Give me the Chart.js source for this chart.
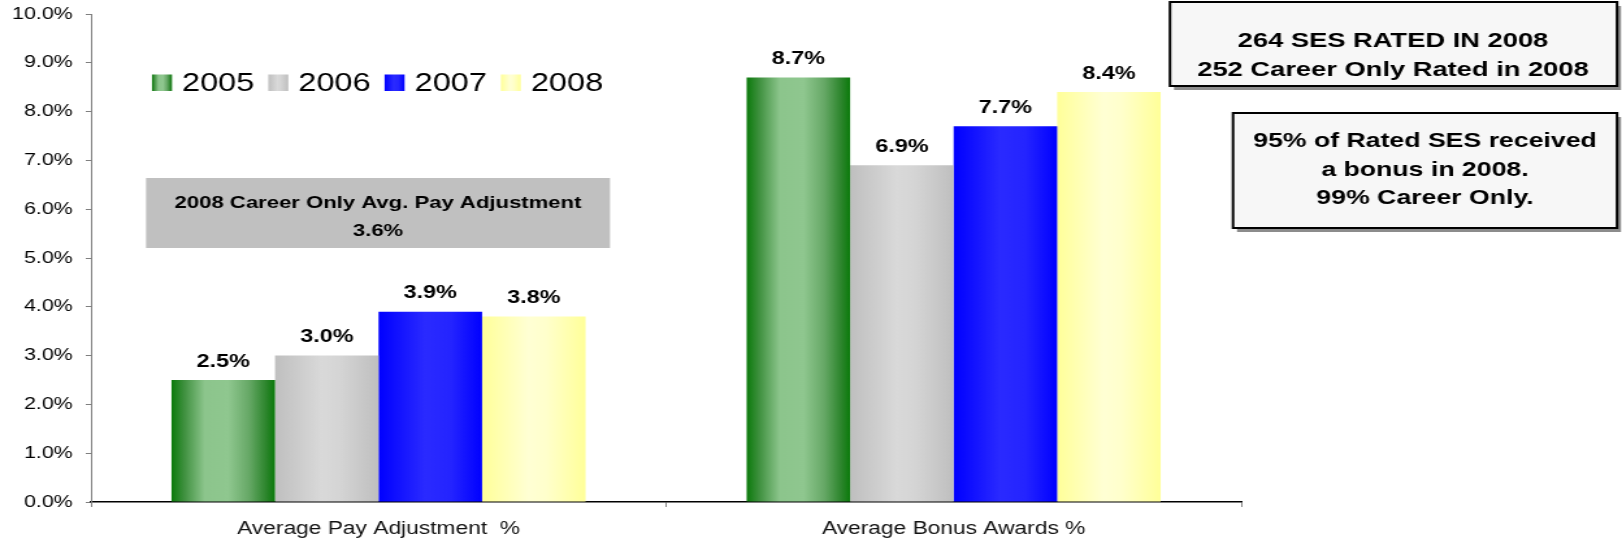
<!DOCTYPE html>
<html>
<head>
<meta charset="utf-8">
<title>SES Pay Adjustment and Bonus Awards</title>
<script src="https://cdn.jsdelivr.net/npm/chart.js@4.4.1/dist/chart.umd.min.js"></script>
<style>
  html, body { margin: 0; padding: 0; background: #fff; overflow: hidden; }
  #chart { display: block; }
</style>
</head>
<body>
<!-- canvas is drawn narrower and stretched sideways, like the original slide -->
<canvas id="chart" width="1248" height="541" style="width:1622px;height:541px"></canvas>
<script>
// --- DATA ---
const categories = ['Average Pay Adjustment  %', 'Average Bonus Awards %'];
const years = ['2005', '2006', '2007', '2008'];
const values2005 = [2.5, 8.7];
const values2006 = [3.0, 6.9];
const values2007 = [3.9, 7.7];
const values2008 = [3.8, 8.4];
const yMin = 0;
const yMax = 10;
const yStep = 1;

const noteLines = ['2008 Career Only Avg. Pay Adjustment', '3.6%'];
const ratedLines = ['264 SES RATED IN 2008', '252 Career Only Rated in 2008'];
const bonusLines = ['95% of Rated SES received', 'a bonus in 2008.', '99% Career Only.'];

// --- STYLE ---
const FONT = "'Liberation Sans', Arial, Helvetica, sans-serif";
const STRETCH = 1622 / 1248;
const sx = v => v / STRETCH;          // page x -> canvas x
const CAT_PCT = 0.72;

const gradientStops = [
    [[0, '#0b7a0b'], [0.12, '#3e903e'], [0.32, '#8cc58c'], [0.55, '#8fc78f'], [0.75, '#66a866'], [0.92, '#2a842a'], [1, '#0b7a0b']],
    [[0, '#bfbfbf'], [0.45, '#d9d9d9'], [0.62, '#d5d5d5'], [1, '#bfbfbf']],
    [[0, '#0000ff'], [0.45, '#2a2aff'], [0.7, '#2424ff'], [1, '#0000ff']],
    [[0, '#ffff99'], [0.45, '#ffffd4'], [0.62, '#ffffcc'], [1, '#ffff99']]
];
const solidColors = ['#5aa55a', '#cfcfcf', '#1a1aff', '#ffffc0'];

function makeGradient(ctx, left, width, stops) {
    const g = ctx.createLinearGradient(left, 0, left + width, 0);
    stops.forEach(([p, c]) => g.addColorStop(p, c));
    return g;
}

function barFill(context) {
    const chart = context.chart;
    const x = chart.scales.x;
    const i = context.datasetIndex;
    if (!x || !x.width || context.type !== 'data') return solidColors[i];
    const groupW = (x.width / categories.length) * CAT_PCT;
    const barW = groupW / years.length;
    const left = x.getPixelForValue(context.dataIndex) - groupW / 2 + i * barW;
    return makeGradient(chart.ctx, left, barW, gradientStops[i]);
}

// --- PLUGINS ---
const valueLabels = {
    id: 'valueLabels',
    afterDatasetsDraw(chart) {
        const ctx = chart.ctx;
        ctx.save();
        ctx.font = `bold 18px ${FONT}`;
        ctx.fillStyle = '#000';
        ctx.textAlign = 'center';
        ctx.textBaseline = 'alphabetic';
        chart.data.datasets.forEach((ds, i) => {
            chart.getDatasetMeta(i).data.forEach((bar, j) => {
                ctx.fillText(ds.data[j].toFixed(1) + '%', bar.x, bar.y - 13.5);
            });
        });
        ctx.restore();
    }
};

const yearLegend = {
    id: 'yearLegend',
    afterDraw(chart) {
        const ctx = chart.ctx;
        const boxW = sx(20), boxTop = 74.5, boxH = 16.5;
        let x = sx(152);
        ctx.save();
        ctx.font = `25px ${FONT}`;
        ctx.fillStyle = '#000';
        ctx.textBaseline = 'alphabetic';
        chart.data.datasets.forEach((ds, i) => {
            ctx.fillStyle = makeGradient(ctx, x, boxW, gradientStops[i]);
            ctx.fillRect(x, boxTop, boxW, boxH);
            ctx.fillStyle = '#000';
            const tx = x + boxW + sx(10);
            ctx.fillText(ds.label, tx, 91);
            x = tx + ctx.measureText(ds.label).width + sx(14);
        });
        ctx.restore();
    }
};

function drawNote(ctx, box, lines, baselines, fontSize) {
    ctx.save();
    const x = sx(box.x1), w = sx(box.x2) - sx(box.x1), h = box.y2 - box.y1;
    if (box.shadow) {
        ctx.fillStyle = '#8c8c8c';
        ctx.fillRect(x + sx(4), box.y1 + 4, w, h);
    }
    ctx.fillStyle = box.fill;
    ctx.fillRect(x, box.y1, w, h);
    if (box.border) {
        ctx.strokeStyle = '#000';
        ctx.lineWidth = 2;
        ctx.strokeRect(x, box.y1, w, h);
    }
    ctx.fillStyle = '#000';
    ctx.font = `bold ${fontSize}px ${FONT}`;
    ctx.textAlign = 'center';
    ctx.textBaseline = 'alphabetic';
    lines.forEach((t, k) => ctx.fillText(t, sx(box.cx), baselines[k]));
    ctx.restore();
}

const notes = {
    id: 'notes',
    afterDraw(chart) {
        const ctx = chart.ctx;
        drawNote(ctx, { x1: 146, x2: 610, y1: 178, y2: 248, cx: 378, fill: '#c0c0c0' },
            noteLines, [207.5, 235.5], 17);
        drawNote(ctx, { x1: 1170, x2: 1617, y1: 2, y2: 86, cx: 1393, fill: '#f7f7f7', border: true, shadow: true },
            ratedLines, [47, 76], 21);
        drawNote(ctx, { x1: 1233, x2: 1617, y1: 113, y2: 228, cx: 1425, fill: '#f7f7f7', border: true, shadow: true },
            bonusLines, [147, 176, 204], 20.5);
    }
};

// --- CHART ---
const seriesValues = [values2005, values2006, values2007, values2008];

new Chart(document.getElementById('chart'), {
    type: 'bar',
    data: {
        labels: categories,
        datasets: years.map((y, i) => ({
            label: y,
            data: seriesValues[i],
            backgroundColor: barFill,
            borderWidth: 0,
            categoryPercentage: CAT_PCT,
            barPercentage: 1.0
        }))
    },
    options: {
        responsive: false,
        devicePixelRatio: 1,
        animation: false,
        events: [],
        layout: { padding: { top: 14, right: 1248 - 955, bottom: 0, left: 0 } },
        plugins: {
            legend: { display: false },
            tooltip: { enabled: false }
        },
        scales: {
            x: {
                grid: { display: true, drawOnChartArea: false, offset: true, tickLength: 5, color: '#808080' },
                border: { color: '#000', width: 1.5 },
                ticks: { color: '#111', padding: 11.5, font: { family: FONT, size: 17.5 } },
                afterFit: s => { s.height = 39; }
            },
            y: {
                min: yMin,
                max: yMax,
                grid: { drawOnChartArea: false, tickLength: 4, color: '#808080' },
                border: { color: '#808080', width: 1 },
                ticks: {
                    stepSize: yStep,
                    color: '#000',
                    padding: 10,
                    font: { family: FONT, size: 16.5 },
                    callback: v => v.toFixed(1) + '%'
                },
                afterFit: s => { s.width = 70; s.paddingTop = 0; s.paddingBottom = 0; }
            }
        }
    },
    plugins: [valueLabels, yearLegend, notes]
});
</script>
</body>
</html>
